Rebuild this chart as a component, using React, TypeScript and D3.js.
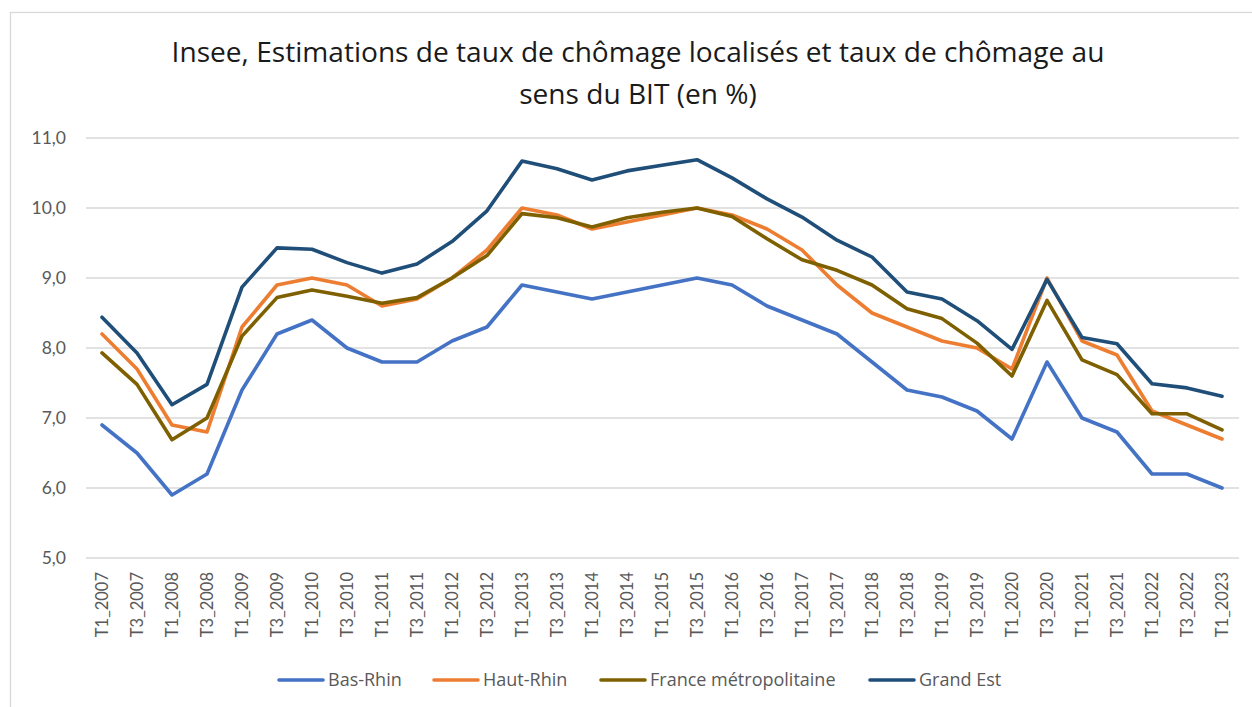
import { useEffect, useRef } from "react"
import * as d3 from "d3"

// T1/T3 periods from 2007 to 2023
const periods = [
  "T1_2007", "T3_2007", "T1_2008", "T3_2008", "T1_2009", "T3_2009", "T1_2010", "T3_2010",
  "T1_2011", "T3_2011", "T1_2012", "T3_2012", "T1_2013", "T3_2013", "T1_2014", "T3_2014",
  "T1_2015", "T3_2015", "T1_2016", "T3_2016", "T1_2017", "T3_2017", "T1_2018", "T3_2018",
  "T1_2019", "T3_2019", "T1_2020", "T3_2020", "T1_2021", "T3_2021", "T1_2022", "T3_2022",
  "T1_2023",
]

const basRhin = [
  6.9, 6.5, 5.9, 6.2, 7.4, 8.2, 8.4, 8.0, 7.8, 7.8, 8.1, 8.3, 8.9, 8.8, 8.7, 8.8,
  8.9, 9.0, 8.9, 8.6, 8.4, 8.2, 7.8, 7.4, 7.3, 7.1, 6.7, 7.8, 7.0, 6.8, 6.2, 6.2, 6.0,
]
const hautRhin = [
  8.2, 7.7, 6.9, 6.8, 8.3, 8.9, 9.0, 8.9, 8.6, 8.7, 9.0, 9.4, 10.0, 9.9, 9.7, 9.8,
  9.9, 10.0, 9.9, 9.7, 9.4, 8.9, 8.5, 8.3, 8.1, 8.0, 7.7, 9.0, 8.1, 7.9, 7.1, 6.9, 6.7,
]
const franceMetro = [
  7.93, 7.48, 6.69, 7.0, 8.17, 8.72, 8.83, 8.74, 8.64, 8.72, 9.0, 9.32, 9.92, 9.86, 9.73, 9.86,
  9.94, 10.0, 9.88, 9.56, 9.26, 9.11, 8.9, 8.56, 8.42, 8.07, 7.6, 8.68, 7.83, 7.62, 7.06, 7.06, 6.83,
]
const grandEst = [
  8.44, 7.93, 7.19, 7.48, 8.87, 9.43, 9.41, 9.22, 9.07, 9.2, 9.52, 9.96, 10.67, 10.56, 10.4, 10.53,
  10.61, 10.69, 10.43, 10.13, 9.87, 9.54, 9.3, 8.8, 8.7, 8.39, 7.98, 8.98, 8.15, 8.06, 7.49, 7.43, 7.31,
]

const seriesNames = ["Bas-Rhin", "Haut-Rhin", "France métropolitaine", "Grand Est"]
const seriesColors = ["#4472C4", "#ED7D31", "#7F6000", "#1F4E79"]
const yTicks = [5, 6, 7, 8, 9, 10, 11]

const W = 1252
const H = 707
const FONT = "Lato, 'Open Sans', sans-serif"
const TITLE_FONT = "'Open Sans', Lato, sans-serif"

export default function App() {
  const ref = useRef<SVGSVGElement | null>(null)

  useEffect(() => {
    if (!ref.current) return
    const svg = d3.select(ref.current)
    svg.selectAll("*").remove()

    const series = [basRhin, hautRhin, franceMetro, grandEst].map((values, i) => ({
      name: seriesNames[i],
      color: seriesColors[i],
      values,
    }))

    const x = d3.scaleBand<string>().domain(periods).range([84.5, 1239.5]).padding(0)
    const y = d3.scaleLinear().domain([5, 11]).range([558, 138])
    const cx = (p: string) => (x(p) ?? 0) + x.bandwidth() / 2

    // chart area border
    svg
      .append("rect")
      .attr("x", 10.5)
      .attr("y", 12.5)
      .attr("width", W)
      .attr("height", H)
      .attr("fill", "#fff")
      .attr("stroke", "#D9D9D9")
      .attr("stroke-width", 1.3)

    // title
    const title = svg
      .append("text")
      .attr("text-anchor", "middle")
      .attr("font-family", TITLE_FONT)
      .attr("font-size", 28.1)
      .attr("fill", "#1a1a1a")
    title.append("tspan").attr("x", 638).attr("y", 62).text("Insee, Estimations de taux de chômage localisés et taux de chômage au")
    title.append("tspan").attr("x", 638).attr("y", 104).text("sens du BIT (en %)")

    // gridlines
    svg
      .append("g")
      .selectAll("line")
      .data(yTicks)
      .join("line")
      .attr("x1", 86)
      .attr("x2", 1239)
      .attr("y1", (d) => y(d))
      .attr("y2", (d) => y(d))
      .attr("stroke", "#D9D9D9")
      .attr("stroke-width", 1.3)

    // y labels
    const fmt = (d: number) => d3.format(".1f")(d).replace(".", ",")
    svg
      .append("g")
      .selectAll("text")
      .data(yTicks)
      .join("text")
      .attr("x", 66)
      .attr("y", (d) => y(d))
      .attr("dy", "0.36em")
      .attr("text-anchor", "end")
      .attr("font-family", FONT)
      .attr("font-size", 17.5)
      .attr("fill", "#595959")
      .text(fmt)

    // x labels
    svg
      .append("g")
      .selectAll("text")
      .data(periods)
      .join("text")
      .attr("transform", (d) => `translate(${cx(d) + 6},572) rotate(-90)`)
      .attr("text-anchor", "end")
      .attr("font-family", FONT)
      .attr("font-size", 16.5)
      .attr("fill", "#595959")
      .text((d) => d)

    // lines
    const line = d3
      .line<number>()
      .x((_, i) => cx(periods[i]))
      .y((d) => y(d))

    svg
      .append("g")
      .selectAll("path")
      .data(series)
      .join("path")
      .attr("d", (d) => line(d.values))
      .attr("fill", "none")
      .attr("stroke", (d) => d.color)
      .attr("stroke-width", 3.6)
      .attr("stroke-linejoin", "round")
      .attr("stroke-linecap", "round")

    // legend
    const legendX = [278, 433, 600, 869]
    const legend = svg
      .append("g")
      .selectAll("g")
      .data(series)
      .join("g")
      .attr("transform", (_, i) => `translate(${legendX[i]},680)`)
    legend
      .append("line")
      .attr("x1", 1)
      .attr("x2", 45)
      .attr("stroke", (d) => d.color)
      .attr("stroke-width", 3.6)
      .attr("stroke-linecap", "round")
    legend
      .append("text")
      .attr("x", 50)
      .attr("dy", "0.36em")
      .attr("font-family", TITLE_FONT)
      .attr("font-size", 18)
      .attr("fill", "#595959")
      .text((d) => d.name)
  }, [])

  return (
    <div style={{ position: "absolute", left: 0, top: 0, width: W, height: H, background: "#fff" }}>
      <svg ref={ref} width={W} height={H} style={{ display: "block" }} />
    </div>
  )
}
